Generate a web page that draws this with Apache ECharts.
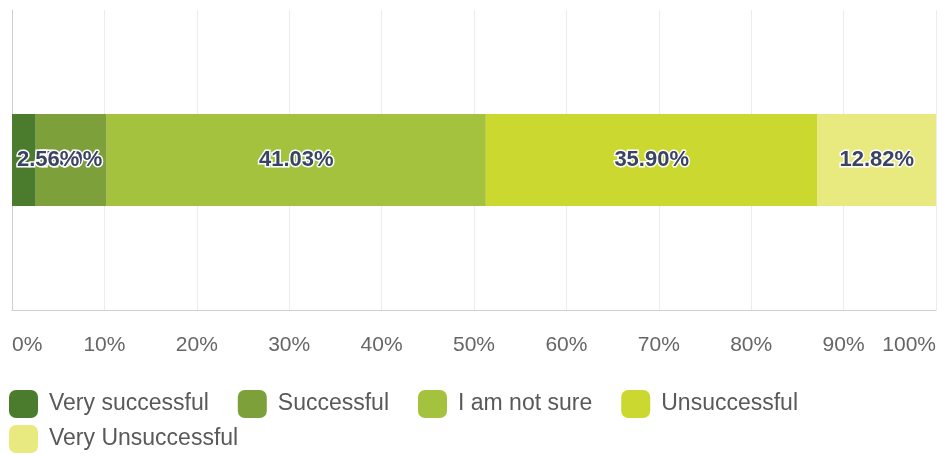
<!DOCTYPE html>
<html>
<head>
<meta charset="utf-8">
<style>
  html, body { margin: 0; padding: 0; background: #ffffff; }
  #chart { width: 942px; height: 456px; }
</style>
<script src="https://cdn.jsdelivr.net/npm/echarts@6/dist/echarts.min.js"></script>
</head>
<body>
<div id="chart"></div>
<script>
// Answer shares (percent of respondents)
const categories = ['Q'];
const seriesNames = ['Very successful', 'Successful', 'I am not sure', 'Unsuccessful', 'Very Unsuccessful'];
const seriesValues = [2.56, 7.69, 41.03, 35.90, 12.82];
const seriesColors = ['#4b7b2c', '#7ea03b', '#a4c23d', '#cad82f', '#e8e97e'];
const tickValues = [0, 10, 20, 30, 40, 50, 60, 70, 80, 90, 100];

const labelStyle = {
  show: true,
  formatter: p => p.value.toFixed(2) + '%',
  fontFamily: 'Liberation Sans',
  fontSize: 22,
  fontWeight: 'bold',
  color: '#3a4462',
  textBorderColor: '#ffffff',
  textBorderWidth: 3,
  offset: [0, 2]
};

const series = seriesNames.map((name, i) => ({
  name: name,
  type: 'bar',
  stack: 'total',
  barWidth: 92,
  // first segment's label sits on its own layer, above its neighbour's
  zlevel: i === 0 ? 1 : 0,
  itemStyle: { color: seriesColors[i] },
  label: Object.assign({}, labelStyle,
    i === 0 ? { position: 'insideLeft', distance: 5 } : { position: 'inside' }),
  labelLayout: { hideOverlap: false },
  emphasis: { disabled: true },
  data: [seriesValues[i]]
}));

const legendBase = {
  left: 9,
  orient: 'horizontal',
  padding: 0,
  itemWidth: 29,
  itemHeight: 28,
  itemGap: 29,
  icon: 'roundRect',
  selectedMode: false,
  textStyle: {
    fontFamily: 'Liberation Sans',
    fontSize: 23,
    color: '#595959',
    padding: [0, 0, 0, 6]
  }
};

const chart = echarts.init(document.getElementById('chart'), null, { renderer: 'canvas' });
chart.setOption({
  animation: false,
  backgroundColor: '#ffffff',
  grid: { left: 12, right: 6, top: 10, bottom: 146, containLabel: false },
  xAxis: {
    type: 'value',
    min: tickValues[0],
    max: tickValues[tickValues.length - 1],
    interval: 10,
    axisLine: { show: true, lineStyle: { color: '#cfcfcf', width: 1 } },
    axisTick: { show: false },
    splitLine: { show: true, lineStyle: { color: '#ececec', width: 1 } },
    axisLabel: {
      margin: 25,
      fontFamily: 'Liberation Sans',
      fontSize: 21,
      color: '#666666',
      alignMinLabel: 'left',
      alignMaxLabel: 'right',
      formatter: v => v + '%'
    }
  },
  yAxis: {
    type: 'category',
    data: categories,
    axisLine: { show: true, lineStyle: { color: '#cfcfcf', width: 1 } },
    axisTick: { show: false },
    axisLabel: { show: false },
    splitLine: { show: false }
  },
  legend: [
    Object.assign({}, legendBase, { top: 390, data: seriesNames.slice(0, 4) }),
    Object.assign({}, legendBase, { top: 425, data: seriesNames.slice(4) })
  ],
  series: series
});
</script>
</body>
</html>
